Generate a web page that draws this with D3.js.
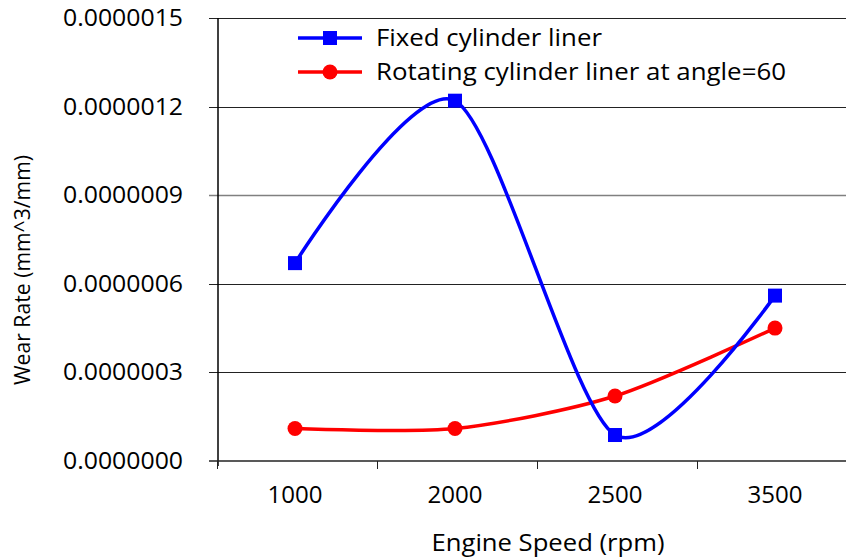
<!DOCTYPE html>
<html>
<head>
<meta charset="utf-8">
<script src="https://cdn.jsdelivr.net/npm/d3@7"></script>
<style>
  body { margin: 0; background: #fff; }
  text { font-family: "Open Sans", sans-serif; fill: #000; }
</style>
</head>
<body>
<div id="chart"></div>
<script>
// chart data
var speeds = ["1000", "2000", "2500", "3500"];
var fixedLiner = [0.00000067, 0.00000122, 0.000000088, 0.00000056];
var rotatingLiner = [0.00000011, 0.00000011, 0.00000022, 0.00000045];
var yTicks = [0, 0.0000003, 0.0000006, 0.0000009, 0.0000012, 0.0000015];
var seriesNames = ["Fixed cylinder liner", "Rotating cylinder liner at angle=60"];

var width = 846, height = 558;
var plotLeft = 218, plotTop = 18, plotBottom = 461, plotRight = 857;

var svg = d3.select("#chart").append("svg")
    .attr("width", width)
    .attr("height", height);

var x = d3.scalePoint().domain(speeds).range([plotLeft - 1, plotRight]).padding(0.5);
var y = d3.scaleLinear().domain([0, 0.0000015]).range([plotBottom, plotTop]);

/******** GRID + Y AXIS ********/
svg.append("g")
    .selectAll("line")
    .data(yTicks.slice(1))
    .enter().append("line")
    .attr("x1", plotLeft - 9)
    .attr("x2", width)
    .attr("y1", d => Math.round(y(d)) + 0.5)
    .attr("y2", d => Math.round(y(d)) + 0.5)
    .attr("stroke", (d, i) => i == 2 ? "#808080" : "#222")
    .attr("stroke-width", (d, i) => i == 2 ? 1.6 : 1);

svg.append("g")
    .selectAll("text")
    .data(yTicks)
    .enter().append("text")
    .attr("x", 183)
    .attr("y", d => y(d) + 8)
    .attr("text-anchor", "end")
    .attr("textLength", 120)
    .attr("lengthAdjust", "spacingAndGlyphs")
    .style("font-size", "23px")
    .text(d3.format(".7f"));

// y axis line
svg.append("line")
    .attr("x1", plotLeft).attr("x2", plotLeft)
    .attr("y1", plotTop).attr("y2", plotBottom + 5)
    .attr("stroke", "#000").attr("stroke-width", 1.5);

/******** X AXIS ********/
svg.append("line")
    .attr("x1", plotLeft - 9).attr("x2", width)
    .attr("y1", plotBottom).attr("y2", plotBottom)
    .attr("stroke", "#222").attr("stroke-width", 1.5);

var step = x.step();
svg.append("g")
    .selectAll("line")
    .data(speeds)
    .enter().append("line")
    .attr("x1", d => x(d) - step / 2 + 0.5)
    .attr("x2", d => x(d) - step / 2 + 0.5)
    .attr("y1", plotBottom)
    .attr("y2", plotBottom + 8)
    .attr("stroke", "#222");

svg.append("g")
    .selectAll("text")
    .data(speeds)
    .enter().append("text")
    .attr("x", d => x(d) - 2)
    .attr("y", 503)
    .attr("text-anchor", "middle")
    .attr("textLength", 55)
    .attr("lengthAdjust", "spacingAndGlyphs")
    .style("font-size", "23px")
    .text(d => d);

// axis titles
svg.append("text")
    .attr("x", 548)
    .attr("y", 551)
    .attr("text-anchor", "middle")
    .attr("textLength", 233)
    .attr("lengthAdjust", "spacingAndGlyphs")
    .style("font-size", "23px")
    .text("Engine Speed (rpm)");

svg.append("text")
    .attr("transform", "translate(30,270) rotate(-90)")
    .attr("text-anchor", "middle")
    .attr("textLength", 230)
    .attr("lengthAdjust", "spacingAndGlyphs")
    .style("font-size", "21px")
    .text("Wear Rate (mm^3/mm)");

/******** LINES ********/
// Excel-like smoothing, tangents a little shorter than plain Catmull-Rom
var line = d3.line()
    .x((d, i) => x(speeds[i]) - 2)
    .y(d => y(d))
    .curve(d3.curveCardinal.tension(0.2));

svg.append("path")
    .datum(rotatingLiner)
    .attr("d", line)
    .attr("fill", "none")
    .attr("stroke", "#ff0000")
    .attr("stroke-width", 3.5);

svg.append("path")
    .datum(fixedLiner)
    .attr("d", line)
    .attr("fill", "none")
    .attr("stroke", "#0000ff")
    .attr("stroke-width", 3.5);

svg.append("g")
    .selectAll("circle")
    .data(rotatingLiner)
    .enter().append("circle")
    .attr("cx", (d, i) => x(speeds[i]) - 2)
    .attr("cy", d => y(d))
    .attr("r", 7.5)
    .attr("fill", "#ff0000");

svg.append("g")
    .selectAll("rect")
    .data(fixedLiner)
    .enter().append("rect")
    .attr("x", (d, i) => x(speeds[i]) - 2 - 7)
    .attr("y", d => y(d) - 7)
    .attr("width", 14)
    .attr("height", 14)
    .attr("fill", "#0000ff");

/******** LEGEND ********/
var legend = svg.append("g");
var legendY = [38, 72];
var legendLen = [226, 410];
var colors = ["#0000ff", "#ff0000"];

seriesNames.forEach(function (name, i) {
    legend.append("line")
        .attr("x1", 298).attr("x2", 362)
        .attr("y1", legendY[i]).attr("y2", legendY[i])
        .attr("stroke", colors[i])
        .attr("stroke-width", 3.5);
    if (i == 0) {
        legend.append("rect")
            .attr("x", 323).attr("y", legendY[i] - 7)
            .attr("width", 14).attr("height", 14)
            .attr("fill", colors[i]);
    } else {
        legend.append("circle")
            .attr("cx", 330).attr("cy", legendY[i])
            .attr("r", 7.5)
            .attr("fill", colors[i]);
    }
    legend.append("text")
        .attr("x", 376)
        .attr("y", legendY[i] + 8)
        .attr("textLength", legendLen[i])
        .attr("lengthAdjust", "spacingAndGlyphs")
        .style("font-size", "23px")
        .text(name);
});
</script>
</body>
</html>
